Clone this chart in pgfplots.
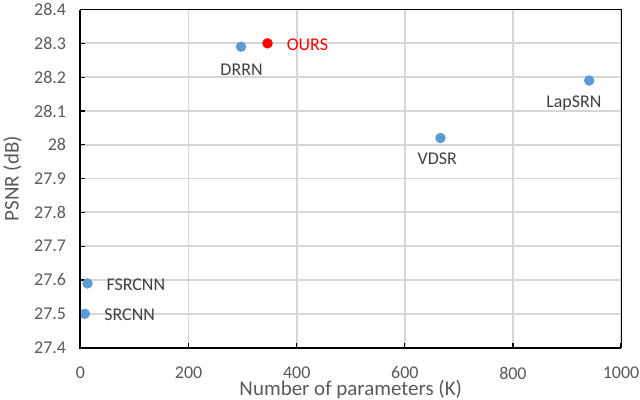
\documentclass[border=0pt]{standalone}
\usepackage{pgfplots}
\pgfplotsset{compat=1.18}
\usepackage{pgfplotstable}
\usepackage{fontspec}
\setmainfont{Carlito}

\definecolor{ptblue}{RGB}{91,155,213}
\definecolor{txtgray}{RGB}{89,89,89}
\definecolor{lblgray}{RGB}{64,64,64}
\definecolor{gridgray}{RGB}{214,214,214}

% x = parameters (K), y = PSNR (dB), dx/dy = label offset in pt
\pgfplotstableread{
x   y     name    dx     dy
8   27.50 SRCNN   45    -6.7
13  27.59 FSRCNN  48.5  -7.3
297 28.29 DRRN    0.5   -29
666 28.02 VDSR    -3.3  -26.6
941 28.19 LapSRN  -15.3 -27.4
}\others

\pgfplotstableread{
x   y     name dx dy
346 28.30 OURS 40 -6.7
}\ours

\begin{document}
\begin{tikzpicture}
\begin{axis}[
    scale only axis,
    width=542pt, height=339pt,
    xmin=0, xmax=1000,
    ymin=27.4, ymax=28.4,
    xtick={0,200,400,600,800,1000},
    ytick={27.4,27.5,27.6,27.7,27.8,27.9,28,28.1,28.2,28.3,28.4},
    xtick pos=left, ytick pos=left,
    xmajorgrids=true, ymajorgrids=true,
    major grid style={draw=gridgray, line width=1.8pt},
    axis line style={black, line width=0.9pt},
    tick align=inside,
    major tick length=5pt,
    major tick style={black, line width=1.2pt},
    ticklabel style={font=\fontsize{18}{21}\selectfont, text=txtgray},
    /pgf/number format/assume math mode=true,
    /pgf/number format/set thousands separator={},
    /pgf/number format/fixed,
    xticklabel style={inner sep=0pt, yshift=-19pt},
    yticklabel style={xshift=-11pt},
    label style={font=\fontsize{21}{24}\selectfont, text=txtgray},
    xlabel={Number of parameters (K)},
    ylabel={PSNR (dB)},
    xlabel style={at={(axis description cs:0.5,-0.1416)}, anchor=base, inner sep=0pt},
    ylabel style={at={(axis description cs:-0.1144,0.5)}, anchor=base},
    point meta=explicit symbolic,
    nodes near coords,
    visualization depends on={\thisrow{dx} \as \dx},
    visualization depends on={\thisrow{dy} \as \dy},
    every node near coord/.append style={
      font=\fontsize{18}{21}\selectfont,
      anchor=base, xshift=\dx pt, yshift=\dy pt},
  ]

  \addplot[only marks, mark=*, mark size=5pt, ptblue,
    every node near coord/.append style={text=lblgray}]
    table[x=x, y=y, meta=name] {\others};

  \addplot[only marks, mark=*, mark size=5pt, red,
    every node near coord/.append style={text=red}]
    table[x=x, y=y, meta=name] {\ours};

\end{axis}
\draw[black, line width=2pt] (current axis.north west) |- (current axis.south east);
\path ([shift={(-79pt,-52pt)}]current axis.south west)
  rectangle ([shift={(19pt,8pt)}]current axis.north east);
\end{tikzpicture}
\end{document}
